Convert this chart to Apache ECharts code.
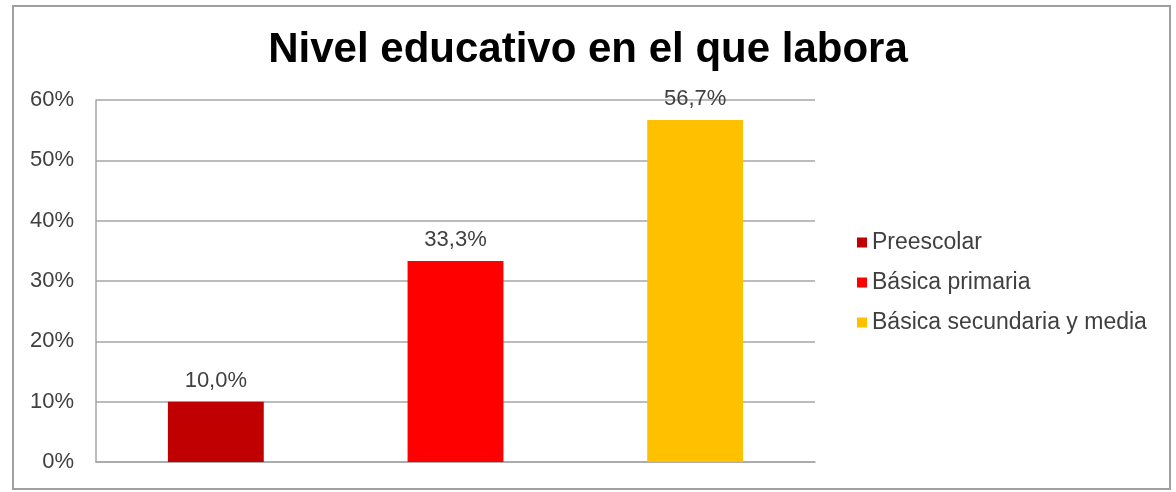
<!DOCTYPE html>
<html>
<head>
<meta charset="utf-8">
<style>
  html, body { margin: 0; padding: 0; background: #ffffff; }
  #chart { width: 1176px; height: 492px; }
</style>
<script src="https://cdn.jsdelivr.net/npm/echarts@6/dist/echarts.min.js"></script>
</head>
<body>
<div id="chart"></div>
<script>
// Nivel educativo en el que labora — porcentaje de docentes por nivel
const categories = ['Preescolar', 'Básica primaria', 'Básica secundaria y media'];
const values = [10.0, 33.3, 56.7];
const colors = ['#C00000', '#FF0000', '#FFC000'];
const yTicks = [0, 10, 20, 30, 40, 50, 60];

const FONT = '"Liberation Sans", Arial, sans-serif';
const TEXT = '#404040';

function pct(v) {
  return v.toFixed(1).replace('.', ',') + '%';
}

// One series per level so each gets its own legend entry; stacking keeps
// every bar centred on its own category slot.
const series = categories.map((name, i) => ({
  name: name,
  type: 'bar',
  stack: 'nivel',
  barWidth: '40%',
  itemStyle: { color: colors[i] },
  label: {
    show: true,
    position: 'top',
    distance: 10,
    fontFamily: FONT,
    fontSize: 22,
    color: TEXT,
    formatter: p => pct(p.value)
  },
  data: categories.map((_, j) => (j === i ? values[i] : '-'))
}));

const chart = echarts.init(document.getElementById('chart'), null, { renderer: 'canvas' });
chart.setOption({
  animation: false,
  backgroundColor: '#ffffff',
  color: colors,
  title: {
    text: 'Nivel educativo en el que labora',
    left: 'center',
    top: 24,
    textStyle: { fontFamily: FONT, fontSize: 42, fontWeight: 'bold', color: '#000000' }
  },
  legend: {
    orient: 'vertical',
    left: 852,
    top: 226,
    itemWidth: 10,
    itemHeight: 10,
    itemGap: 17,
    icon: 'rect',
    data: categories,
    textStyle: { fontFamily: FONT, fontSize: 23, color: TEXT }
  },
  grid: { left: 96, right: 361, top: 100, bottom: 30, containLabel: false },
  xAxis: {
    type: 'category',
    data: categories,
    axisLine: { show: true, lineStyle: { color: '#a6a6a6', width: 1.5 } },
    axisTick: { show: false },
    axisLabel: { show: false }
  },
  yAxis: {
    type: 'value',
    min: yTicks[0],
    max: yTicks[yTicks.length - 1],
    interval: 10,
    axisLine: { show: true, lineStyle: { color: '#a6a6a6', width: 1.5 } },
    axisTick: { show: false },
    splitLine: { show: true, lineStyle: { color: '#a6a6a6', width: 1.5 } },
    axisLabel: {
      margin: 22,
      fontFamily: FONT,
      fontSize: 22,
      color: TEXT,
      formatter: v => v + '%'
    }
  },
  graphic: [{
    type: 'rect',
    shape: { x: 13, y: 6, width: 1157, height: 483 },
    style: { fill: 'none', stroke: '#a0a0a0', lineWidth: 2 },
    silent: true,
    z: -1
  }],
  series: series
});
</script>
</body>
</html>
